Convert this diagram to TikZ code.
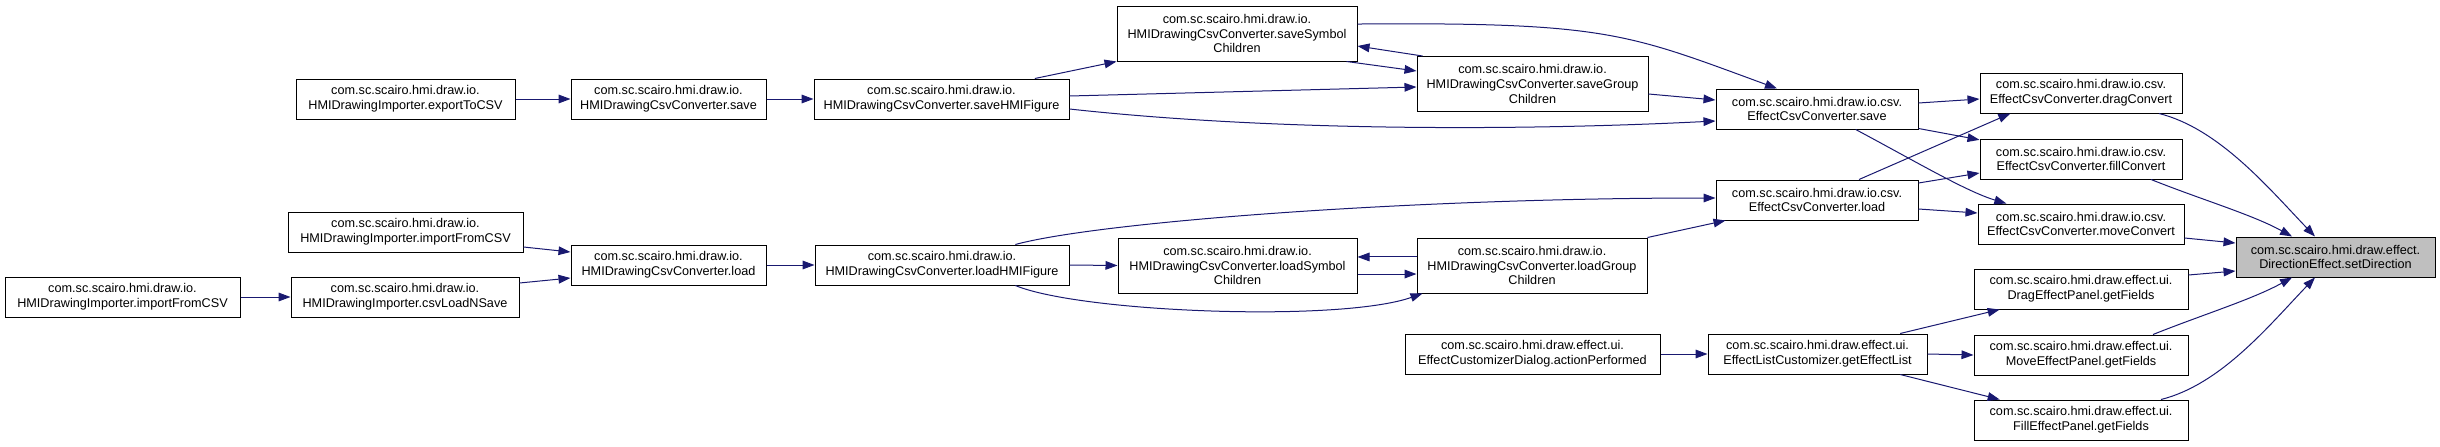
\documentclass[tikz,border=0pt]{standalone}
\usepackage{fontspec}
\setmainfont{Liberation Sans}
\usetikzlibrary{arrows.meta}
\definecolor{midblue}{HTML}{191970}
\definecolor{rootgray}{HTML}{BFBFBF}
\tikzstyle{func}     = [draw=black, line width=0.75pt, fill=white, align=center, inner sep=0pt, minimum height=30pt, font=\fontsize{9.5}{11}\selectfont]
\tikzstyle{tall}     = [minimum height=41.25pt]
\tikzstyle{rootfunc} = [func, fill=rootgray]
\tikzstyle{wd}       = [minimum width=#1*0.75pt]
\tikzstyle{call}     = [draw=midblue, line width=0.75pt, -{Triangle[length=9pt,width=6.5pt]}]

\begin{document}
\begin{tikzpicture}[x=0.75pt, y=-0.75pt]
\useasboundingbox (0,0) rectangle (2440,446);

% save branch
\node[func,wd=219] (expCSV)  at (405.5,99) {com.sc.scairo.hmi.draw.io.\\HMIDrawingImporter.exportToCSV};
\node[func,wd=195] (hcSave)  at (668.5,99) {com.sc.scairo.hmi.draw.io.\\HMIDrawingCsvConverter.save};
\node[func,wd=255] (saveFig) at (941.5,99) {com.sc.scairo.hmi.draw.io.\\HMIDrawingCsvConverter.saveHMIFigure};
\node[func,tall,wd=240] (saveSym) at (1237,33.5) {com.sc.scairo.hmi.draw.io.\\HMIDrawingCsvConverter.saveSymbol\\Children};
\node[func,tall,wd=231] (saveGrp) at (1532.5,84) {com.sc.scairo.hmi.draw.io.\\HMIDrawingCsvConverter.saveGroup\\Children};
\node[func,wd=202] (ecSave)  at (1817,109) {com.sc.scairo.hmi.draw.io.csv.\\EffectCsvConverter.save};

% load branch
\node[func,wd=235] (impA)    at (405.5,232) {com.sc.scairo.hmi.draw.io.\\HMIDrawingImporter.importFromCSV};
\node[func,wd=235] (impB)    at (122.5,297) {com.sc.scairo.hmi.draw.io.\\HMIDrawingImporter.importFromCSV};
\node[func,wd=228] (csvLoad) at (405,297) {com.sc.scairo.hmi.draw.io.\\HMIDrawingImporter.csvLoadNSave};
\node[func,wd=195] (hcLoad)  at (668.5,265) {com.sc.scairo.hmi.draw.io.\\HMIDrawingCsvConverter.load};
\node[func,wd=254] (loadFig) at (942,265) {com.sc.scairo.hmi.draw.io.\\HMIDrawingCsvConverter.loadHMIFigure};
\node[func,tall,wd=239] (loadSym) at (1237.5,265.5) {com.sc.scairo.hmi.draw.io.\\HMIDrawingCsvConverter.loadSymbol\\Children};
\node[func,tall,wd=230] (loadGrp) at (1532,265.5) {com.sc.scairo.hmi.draw.io.\\HMIDrawingCsvConverter.loadGroup\\Children};
\node[func,wd=202] (ecLoad)  at (1817,200) {com.sc.scairo.hmi.draw.io.csv.\\EffectCsvConverter.load};

% ui branch
\node[func,wd=255] (actPerf) at (1532.5,354) {com.sc.scairo.hmi.draw.effect.ui.\\EffectCustomizerDialog.actionPerformed};
\node[func,wd=219] (getList) at (1817.5,354) {com.sc.scairo.hmi.draw.effect.ui.\\EffectListCustomizer.getEffectList};

% direct callers
\node[func,wd=202] (dragConv)  at (2081,93)  {com.sc.scairo.hmi.draw.io.csv.\\EffectCsvConverter.dragConvert};
\node[func,wd=202] (fillConv)  at (2081,159) {com.sc.scairo.hmi.draw.io.csv.\\EffectCsvConverter.fillConvert};
\node[func,wd=206] (moveConv)  at (2081,224) {com.sc.scairo.hmi.draw.io.csv.\\EffectCsvConverter.moveConvert};
\node[func,wd=214] (dragPanel) at (2081,289) {com.sc.scairo.hmi.draw.effect.ui.\\DragEffectPanel.getFields};
\node[func,wd=214] (movePanel) at (2081,355) {com.sc.scairo.hmi.draw.effect.ui.\\MoveEffectPanel.getFields};
\node[func,wd=214] (fillPanel) at (2081,420) {com.sc.scairo.hmi.draw.effect.ui.\\FillEffectPanel.getFields};

\node[rootfunc,wd=199] (setDir) at (2335.5,257) {com.sc.scairo.hmi.draw.effect.\\DirectionEffect.setDirection};

% save calls
\draw[call] (expCSV.east) -- (hcSave.west);
\draw[call] (hcSave.east) -- (saveFig.west);
\draw[call] ([xshift=70pt]saveFig.north) -- (saveSym.south west);
\draw[call] ([yshift=2.25pt]saveFig.east) -- ([yshift=-2.25pt]saveGrp.west);
\draw[call] ([yshift=-7.5pt]saveFig.east) .. controls +(200,22) and +(-200,10) .. ([yshift=-9pt]ecSave.west);
\draw[call] ([xshift=-8.25pt]saveSym.south east) -- ([yshift=9.75pt]saveGrp.west);
\draw[call] ([xshift=4.5pt]saveGrp.north west) -- ([yshift=-9.4pt]saveSym.east);
\draw[call] ([yshift=7.1pt]saveSym.east) .. controls +(250,-2) and +(-150,-55) .. ([xshift=-30pt]ecSave.north);
\draw[call] ([yshift=-7.5pt]saveGrp.east) -- ([yshift=6.75pt]ecSave.west);
\draw[call] ([yshift=4.5pt]ecSave.east) -- ([yshift=-4.5pt]dragConv.west);
\draw[call] ([yshift=0.75pt]ecSave.south east) -- ([yshift=-1pt]fillConv.north west);
\draw[call] ([xshift=29pt]ecSave.south) .. controls +(60,32) and +(-40,-12) .. ([xshift=-56pt]moveConv.north);

% load calls
\draw[call] ([yshift=-11.25pt]impA.east) -- ([yshift=9.75pt]hcLoad.west);
\draw[call] (impB.east) -- (csvLoad.west);
\draw[call] ([yshift=10.5pt]csvLoad.east) -- ([yshift=-9.75pt]hcLoad.west);
\draw[call] (hcLoad.east) -- (loadFig.west);
\draw[call] ([xshift=55pt]loadFig.north) .. controls +(85,-23) and +(-300,0) .. ([yshift=1.5pt]ecLoad.west);
\draw[call] (loadFig.east) -- (loadSym.west);
\draw[call] ([xshift=55pt]loadFig.south) .. controls +(65,27) and +(-83,29) .. ([xshift=4.5pt]loadGrp.south west);
\draw[call] ([yshift=-6.4pt]loadSym.east) -- ([yshift=-6.4pt]loadGrp.west);
\draw[call] ([yshift=6.4pt]loadGrp.west) -- ([yshift=6.4pt]loadSym.east);
\draw[call] (loadGrp.north east) -- ([xshift=7.5pt]ecLoad.south west);
\draw[call] ([xshift=31.5pt]ecLoad.north) -- ([xshift=-53pt]dragConv.south);
\draw[call] ([yshift=12.75pt]ecLoad.east) -- ([yshift=-10.5pt]fillConv.west);
\draw[call] ([yshift=-6.75pt]ecLoad.east) -- ([yshift=8.25pt]moveConv.west);

% ui calls
\draw[call] (actPerf.east) -- (getList.west);
\draw[call] ([xshift=62pt]getList.north) -- ([xshift=-61pt]dragPanel.south);
\draw[call] (getList.east) -- (movePanel.west);
\draw[call] ([xshift=62pt]getList.south) -- ([xshift=-61pt]fillPanel.north);

% into setDirection
\draw[call] ([xshift=58.5pt]dragConv.south) .. controls +(60,15) and +(-46,-48) .. ([xshift=-15.4pt]setDir.north);
\draw[call] ([xshift=52.5pt]fillConv.south) .. controls +(50,20) and +(-40,-22) .. ([xshift=-32.6pt]setDir.north);
\draw[call] ([yshift=-10.5pt]moveConv.east) -- ([yshift=10.5pt]setDir.west);
\draw[call] ([yshift=10.5pt]dragPanel.east) -- ([yshift=-10.5pt]setDir.west);
\draw[call] ([xshift=54pt]movePanel.north) .. controls +(50,-20) and +(-40,22) .. ([xshift=-32.6pt]setDir.south);
\draw[call] ([xshift=60pt]fillPanel.north) .. controls +(60,-15) and +(-46,48) .. ([xshift=-15.4pt]setDir.south);

\end{tikzpicture}
\end{document}
